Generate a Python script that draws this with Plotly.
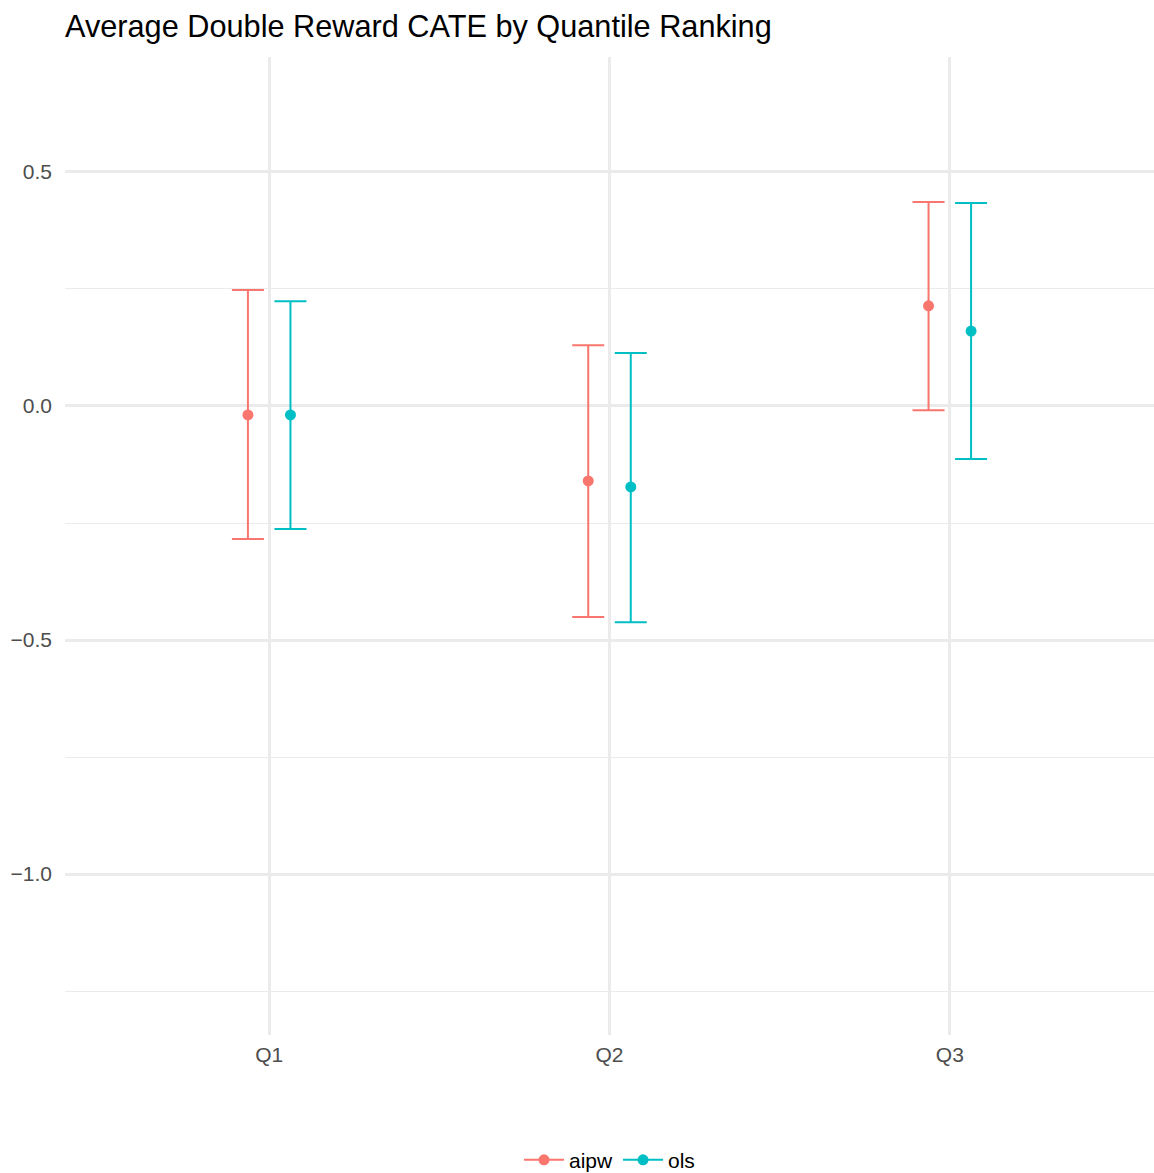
import plotly.graph_objects as go

# ---- data ----
quantiles = ["Q1", "Q2", "Q3"]
methods = ["aipw", "ols"]
estimates = {
    "aipw": [-0.019, -0.160, 0.214],
    "ols": [-0.019, -0.173, 0.160],
}
upper = {
    "aipw": [0.248, 0.130, 0.436],
    "ols": [0.224, 0.113, 0.434],
}
lower = {
    "aipw": [-0.284, -0.451, -0.009],
    "ols": [-0.263, -0.462, -0.113],
}
colors = {"aipw": "#F8766D", "ols": "#00BFC4"}
dodge = {"aipw": -0.0625, "ols": 0.0625}

W, H = 1154, 1173

fig = go.Figure()

# dashed zero reference line
fig.add_shape(type="line", xref="paper", yref="y", x0=0, x1=1, y0=0, y1=0,
              line=dict(color="#BEBEBE", width=2, dash="10px,9px"), layer="below")

for m in methods:
    xs = [i + 1 + dodge[m] for i in range(len(quantiles))]
    est = estimates[m]
    fig.add_trace(go.Scatter(
        x=xs, y=est, mode="markers", showlegend=False, name=m,
        marker=dict(color=colors[m], size=11),
        error_y=dict(type="data", symmetric=False,
                     array=[u - e for u, e in zip(upper[m], est)],
                     arrayminus=[e - l for e, l in zip(est, lower[m])],
                     color=colors[m], thickness=2, width=16),
    ))
    # legend entry (line + dot key)
    fig.add_trace(go.Scatter(
        x=[None], y=[None], mode="lines+markers", name=m,
        line=dict(color=colors[m], width=2),
        marker=dict(color=colors[m], size=11),
    ))

fig.update_layout(
    width=W, height=H,
    margin=dict(l=65, r=0, t=57, b=138, autoexpand=False),
    plot_bgcolor="white", paper_bgcolor="white",
    font=dict(family="Liberation Sans, Arial, sans-serif", size=21, color="#000000"),
    title=dict(text="Average Double Reward CATE by Quantile Ranking",
               x=65 / W, xref="container", xanchor="left",
               y=1 - 26 / H, yref="container", yanchor="middle",
               font=dict(size=30.7, color="#000000")),
    showlegend=True,
    legend=dict(orientation="h", x=0.5, xanchor="center", xref="paper",
                y=-0.128, yanchor="middle", font=dict(size=21, color="#000000"),
                itemwidth=40, bgcolor="rgba(0,0,0,0)"),
)

fig.update_xaxes(
    range=[0.4, 3.6], tickmode="array", tickvals=[1, 2, 3], ticktext=quantiles,
    showgrid=True, gridcolor="#EBEBEB", gridwidth=2.5, zeroline=False,
    showline=False, ticks="", ticklabelstandoff=5,
    tickfont=dict(size=21, color="#4D4D4D"),
)
fig.update_yaxes(
    range=[-1.344, 0.7457], tickmode="array", tickvals=[-1.0, -0.5, 0.0, 0.5],
    ticktext=["\u22121.0", "\u22120.5", "0.0", "0.5"],
    showgrid=True, gridcolor="#EBEBEB", gridwidth=2.5, zeroline=False,
    showline=False, ticks="", ticklabelstandoff=12,
    tickfont=dict(size=21, color="#4D4D4D"),
    minor=dict(tickmode="array", tickvals=[-1.25, -0.75, -0.25, 0.25],
               showgrid=True, gridcolor="#EBEBEB", gridwidth=1.2),
)

fig.write_html(
    "out.html",
    config={"displayModeBar": False},
    post_script="document.body.style.margin='0';document.body.style.overflow='hidden';",
)
